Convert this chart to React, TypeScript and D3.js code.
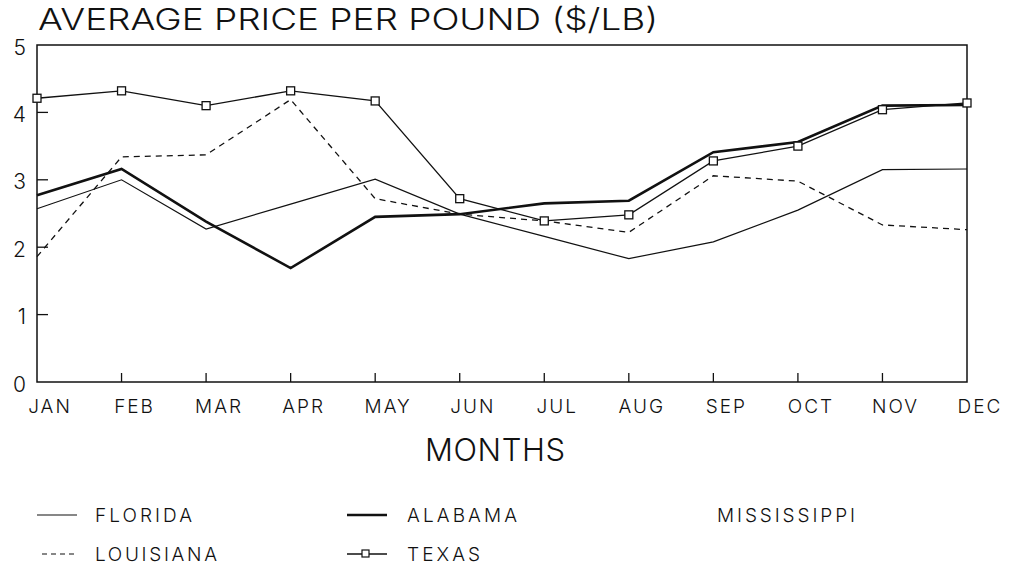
import React from "react";
import * as d3 from "d3";

const months = ["JAN", "FEB", "MAR", "APR", "MAY", "JUN", "JUL", "AUG", "SEP", "OCT", "NOV", "DEC"];
const florida = [2.57, 3.0, 2.27, 2.64, 3.01, 2.49, 2.16, 1.83, 2.08, 2.55, 3.15, 3.16];
const alabama = [2.77, 3.16, 2.38, 1.69, 2.45, 2.49, 2.65, 2.69, 3.41, 3.56, 4.1, 4.11];
const louisiana = [1.86, 3.34, 3.37, 4.19, 2.72, 2.49, 2.39, 2.22, 3.06, 2.98, 2.33, 2.26];
const texas = [4.21, 4.32, 4.1, 4.32, 4.17, 2.72, 2.39, 2.48, 3.28, 3.5, 4.04, 4.14];
const yTicks = [0, 1, 2, 3, 4, 5];

const W = 1010;
const H = 569;
const left = 37;
const right = 967;
const top = 45;
const bottom = 382;
const ink = "#111";
const font = "Inter, Roboto, 'Liberation Sans', Arial, sans-serif";

export default function App() {
  const x = d3.scalePoint<string>().domain(months).range([left, right]);
  const y = d3.scaleLinear().domain([0, 5]).range([bottom, top]);
  const line = d3
    .line<number>()
    .x((_, i) => x(months[i]) as number)
    .y((d) => y(d));

  const legendTexts = [
    { t: "FLORIDA", x: 95, y: 515, w: 97 },
    { t: "ALABAMA", x: 407, y: 515, w: 110 },
    { t: "MISSISSIPPI", x: 717, y: 515, w: 138 },
    { t: "LOUISIANA", x: 95, y: 554, w: 122 },
    { t: "TEXAS", x: 407, y: 554, w: 73 },
  ];

  return (
    <svg
      width={W}
      height={H}
      style={{ position: "absolute", left: 0, top: 0, background: "#fff" }}
      fontFamily={font}
      fontWeight={300}
    >
      <rect x={0} y={0} width={W} height={H} fill="#fff" />
      {/* title */}
      <text x={38} y={30} fontSize={30} fill={ink} textLength={620} lengthAdjust="spacingAndGlyphs">
        AVERAGE PRICE PER POUND ($/LB)
      </text>

      {/* frame */}
      <rect x={left} y={top} width={right - left} height={bottom - top} fill="none" stroke={ink} strokeWidth={1.5} />

      {/* y ticks */}
      {yTicks.map((t) => (
        <g key={"y" + t}>
          {t > 0 && t < 5 && <line x1={left} x2={left + 11} y1={y(t)} y2={y(t)} stroke={ink} strokeWidth={1.3} />}
          <text x={26} y={y(t) + 2} fontSize={21} fill={ink} textAnchor="end" dominantBaseline="central">
            {t}
          </text>
        </g>
      ))}

      {/* x ticks */}
      {months.map((m, i) => (
        <g key={m}>
          {i > 0 && i < months.length - 1 && (
            <line x1={x(m)} x2={x(m)} y1={bottom} y2={bottom - 9} stroke={ink} strokeWidth={1.3} />
          )}
          <text
            x={(x(m) as number) + 13}
            y={413}
            fontSize={19}
            fill={ink}
            textAnchor="middle"
            letterSpacing={2}
          >
            {m}
          </text>
        </g>
      ))}

      {/* axis title */}
      <text x={425} y={461} fontSize={31} fill={ink} textLength={140} lengthAdjust="spacing">
        MONTHS
      </text>

      {/* series */}
      <path d={line(florida) || ""} fill="none" stroke={ink} strokeWidth={1.2} />
      <path d={line(louisiana) || ""} fill="none" stroke={ink} strokeWidth={1.3} strokeDasharray="6,5" />
      <path d={line(alabama) || ""} fill="none" stroke={ink} strokeWidth={2.6} />
      <path d={line(texas) || ""} fill="none" stroke={ink} strokeWidth={1.3} />
      {texas.map((v, i) => (
        <rect
          key={"tx" + i}
          x={(x(months[i]) as number) - 4}
          y={y(v) - 4}
          width={8}
          height={8}
          fill="#fff"
          stroke={ink}
          strokeWidth={1.3}
        />
      ))}

      {/* legend */}
      <line x1={37} x2={77} y1={515} y2={515} stroke={ink} strokeWidth={1.2} />
      <line x1={347} x2={387} y1={515} y2={515} stroke={ink} strokeWidth={2.6} />
      <line x1={42} x2={76} y1={554} y2={554} stroke={ink} strokeWidth={1.2} strokeDasharray="5,4" />
      <line x1={347} x2={387} y1={554} y2={554} stroke={ink} strokeWidth={1.3} />
      <rect x={362} y={550} width={7} height={7} fill="#fff" stroke={ink} strokeWidth={1.2} />
      {legendTexts.map((d) => (
        <text
          key={d.t}
          x={d.x}
          y={d.y}
          fontSize={19}
          fill={ink}
          dominantBaseline="central"
          textLength={d.w}
          lengthAdjust="spacing"
        >
          {d.t}
        </text>
      ))}
    </svg>
  );
}
